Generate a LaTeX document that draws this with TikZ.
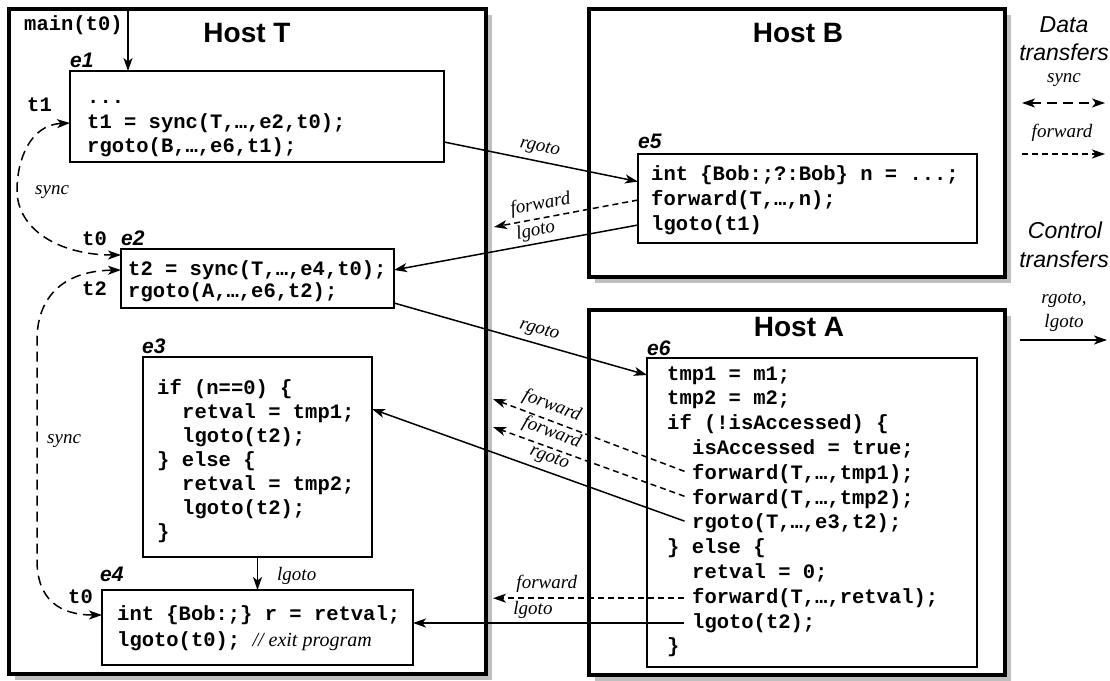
\documentclass[tikz,border=0pt]{standalone}
\usepackage{fontspec}
\setmainfont{Liberation Serif}
\newfontfamily\codefont{Liberation Mono}
\newfontfamily\hostfont{Liberation Sans}
\usetikzlibrary{arrows.meta,calc,shadows}
\tikzset{
  hostbox/.style={draw, line width=4pt, fill=white, outer sep=0pt, inner sep=0pt, anchor=north west,
    drop shadow={shadow xshift=6pt, shadow yshift=-6pt, fill=black!25, opacity=1}},
  ebox/.style={draw, line width=1.1pt, fill=white, outer sep=0pt, inner sep=0pt, anchor=north west},
  code/.style={font=\codefont\bfseries\fontsize{20.5}{24}\selectfont, inner sep=0pt, text height=14pt, text depth=4pt, anchor=base west},
  htitle/.style={font=\hostfont\bfseries\fontsize{28}{30}\selectfont, inner sep=0pt},
  elabel/.style={font=\hostfont\bfseries\itshape\fontsize{21}{24}\selectfont, inner sep=0pt, anchor=base west},
  ilabel/.style={font=\itshape\fontsize{19}{22}\selectfont, inner sep=0pt},
  leg/.style={font=\hostfont\itshape\fontsize{23}{26}\selectfont, inner sep=0pt},
  ctl/.style={line width=1.5pt, -{Stealth[length=13pt,width=9pt,inset=3.5pt]}},
  fwd/.style={line width=1.5pt, dash pattern=on 6pt off 4pt, -{Stealth[length=13pt,width=9pt,inset=3.5pt]}},
  syn/.style={line width=1.5pt, dash pattern=on 10pt off 6pt, {Stealth[length=13pt,width=9pt,inset=3.5pt]}-{Stealth[length=13pt,width=9pt,inset=3.5pt]}},
}
\begin{document}
\begin{tikzpicture}[x=1pt,y=-1pt]
\useasboundingbox[fill=white] (0,0) rectangle (1110,680);
% hosts
\node[hostbox, minimum width=477pt, minimum height=665pt] (hostT) at (9,9) {};
\node[hostbox, minimum width=416pt, minimum height=268pt] (hostB) at (589,9) {};
\node[hostbox, minimum width=416pt, minimum height=365pt] (hostA) at (589,310) {};
\node[htitle] (tT) at (247,33) {Host T};
\node[htitle] (tB) at (798,33) {Host B};
\node[htitle] (tA) at (799,327) {Host A};
% boxes
\node[ebox, minimum width=374pt, minimum height=91pt] (e1) at (70,71) {};
\node[ebox, minimum width=273pt, minimum height=59pt] (e2) at (121,249) {};
\node[ebox, minimum width=229pt, minimum height=200pt] (e3) at (143,357) {};
\node[ebox, minimum width=311pt, minimum height=75pt] (e4) at (102,590) {};
\node[ebox, minimum width=339pt, minimum height=89pt] (e5) at (638,154) {};
\node[ebox, minimum width=330pt, minimum height=309pt] (e6) at (647,358) {};
% box labels
\node[elabel] (le1) at (70,67) {e1};
\node[elabel] (le2) at (121,245) {e2};
\node[elabel] (le3) at (142,353) {e3};
\node[elabel] (le4) at (100,581) {e4};
\node[elabel] (le5) at (638,148) {e5};
\node[elabel] (le6) at (647,355) {e6};
% code e1
\node[code] (e1a) at (87,103) {...};
\node[code] (e1b) at (87,128) {t1 = sync(T,…,e2,t0);};
\node[code] (e1c) at (87,152) {rgoto(B,…,e6,t1);};
% e2
\node[code] (e2a) at (128,275) {t2 = sync(T,…,e4,t0);};
\node[code] (e2b) at (128,297) {rgoto(A,…,e6,t2);};
% e3
\node[code] (e3a) at (157,394) {if (n==0) \{};
\node[code] (e3b) at (182,418) {retval = tmp1;};
\node[code] (e3c) at (182,442) {lgoto(t2);};
\node[code] (e3d) at (157,466) {\} else \{};
\node[code] (e3e) at (182,490) {retval = tmp2;};
\node[code] (e3f) at (182,514) {lgoto(t2);};
\node[code] (e3g) at (157,538) {\}};
% e4
\node[code] (e4a) at (117,620) {int \{Bob:;\} r = retval;};
\node[code] (e4b) at (117,646) {lgoto(t0); {\rmfamily\mdseries\itshape\fontsize{20}{24}\selectfont // exit program}};
% e5
\node[code] (e5a) at (651,180) {int \{Bob:;?:Bob\} n = ...;};
\node[code] (e5b) at (651,205) {forward(T,…,n);};
\node[code] (e5c) at (651,230) {lgoto(t1)};
% e6
\node[code] (e6a) at (667,380) {tmp1 = m1;};
\node[code] (e6b) at (667,404.8) {tmp2 = m2;};
\node[code] (e6c) at (667,429.6) {if (!isAccessed) \{};
\node[code] (e6d) at (692,454.4) {isAccessed = true;};
\node[code] (e6e) at (692,479.2) {forward(T,…,tmp1);};
\node[code] (e6f) at (692,504) {forward(T,…,tmp2);};
\node[code] (e6g) at (692,528.8) {rgoto(T,…,e3,t2);};
\node[code] (e6h) at (667,553.6) {\} else \{};
\node[code] (e6i) at (692,578.4) {retval = 0;};
\node[code] (e6j) at (692,603.2) {forward(T,…,retval);};
\node[code] (e6k) at (692,628) {lgoto(t2);};
\node[code] (e6l) at (667,652.8) {\}};
% side labels
\node[code] (main) at (24,30) {main(t0)};
\node[code] (lt1) at (27,111) {t1};
\node[code] (lt0a) at (82,245) {t0};
\node[code] (lt2) at (82,295) {t2};
\node[code] (lt0b) at (68,603) {t0};
\node[ilabel, anchor=base west] (ls1) at (35,194) {sync};
\node[ilabel, anchor=base west] (ls2) at (47,443) {sync};
\node[ilabel, anchor=base west] (lg34) at (277,580) {lgoto};
% free ends
\coordinate (mtop) at (128,9);
\coordinate (f5end) at (494,227);
\coordinate (f6aend) at (493,399);
\coordinate (f6bend) at (493,427);
\coordinate (Tedge) at (493,0);
% connectors
\draw[ctl] (mtop) -- (mtop |- e1.north);
\draw[ctl] ($(e1.north east)!0.78!(e1.south east)$) -- node[ilabel, sloped, above=5pt, pos=0.48] (r15) {rgoto} ($(e5.north west)!0.31!(e5.south west)$);
\draw[fwd] (e5.west |- e5b.west) -- node[ilabel, sloped, above=4pt, pos=0.66] (fw5) {forward} (f5end);
\draw[ctl] (e5.west |- e5c.west) -- node[ilabel, sloped, above=3pt, pos=0.41] (lg52) {lgoto} (e2.east |- e2a.west);
\draw[ctl] ($(e2.south east)+(0,-5)$) -- node[ilabel, sloped, above=5pt, pos=0.56] (r26) {rgoto} (e6.west |- e6a.west);
\draw[fwd, shorten <=8pt] (e6e.west) -- node[ilabel, sloped, above=5pt, pos=0.73] (fw6a) {forward} (f6aend);
\draw[fwd, shorten <=8pt] (e6f.west) -- node[ilabel, sloped, above=5pt, pos=0.73] (fw6b) {forward} (f6bend);
\draw[ctl, shorten <=8pt] (e6g.west) -- node[ilabel, sloped, above=5pt, pos=0.46] (r63) {rgoto} ($(e3.north east)+(0,52)$);
\draw[fwd, shorten <=8pt] (e6j.west) -- node[ilabel, above=5pt, pos=0.73] (fw6c) {forward} (Tedge |- e6j.west);
\draw[ctl, shorten <=8pt] (e6k.west) -- node[ilabel, above=4pt, pos=0.57] (lg64) {lgoto} (e4.east |- e6k.west);
\draw[ctl] (e3.south) -- (e3.south |- e4.north);
\draw[syn] (e1.west |- e1b.west) .. controls (30,125) and (17,160) .. (17,190) .. controls (17,230) and (60,255) .. ($(e2.north west)+(0,6)$);
\draw[syn] (e2.west |- e2a.west) .. controls (60,271) and (37,300) .. (37,340) -- (37,560) .. controls (37,600) and (60,615) .. (e4.west |- e4a.west);
% legend
\node[leg] (dataL) at (1064,25) {Data};
\node[leg] (transL) at (1064,52) {transfers};
\node[ilabel] (syncL) at (1064,80) {sync};
\coordinate (sy1) at (1022,103); \coordinate (sy2) at (1105,103);
\draw[syn] (sy1) -- (sy2);
\node[ilabel] (fwdL) at (1062,133) {forward};
\coordinate (fd1) at (1022,154); \coordinate (fd2) at (1105,154);
\draw[fwd] (fd1) -- (fd2);
\node[leg] (ctlL) at (1065,230) {Control};
\node[leg] (trans2L) at (1064,259) {transfers};
\node[ilabel] (rgL) at (1064,300) {rgoto,};
\node[ilabel] (lgL) at (1064,323) {lgoto};
\coordinate (ct1) at (1020,340); \coordinate (ct2) at (1107,340);
\draw[ctl] (ct1) -- (ct2);
\end{tikzpicture}
\end{document}
